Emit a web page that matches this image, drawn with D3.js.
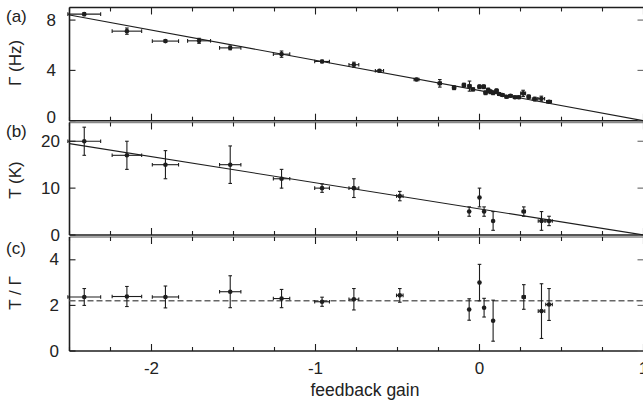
<!DOCTYPE html>
<html><head><meta charset="utf-8">
<script src="https://cdn.jsdelivr.net/npm/d3@7/dist/d3.min.js"></script>
<style>body{margin:0;background:#fff}svg{display:block}text{font-family:"Liberation Sans",Arial,sans-serif;fill:#222}</style>
</head><body><svg id="c" width="643" height="400"></svg>
<script>
// ---- data ----
const gainA = [-2.41,-2.15,-1.915,-1.71,-1.52,-1.207,-0.96,-0.766,-0.61,-0.384,-0.242,-0.155,-0.095,-0.061,-0.04,0.0,0.026,0.037,0.053,0.067,0.083,0.104,0.12,0.14,0.165,0.189,0.216,0.24,0.266,0.3,0.337,0.377,0.424];
const gainErrA = [0.1,0.09,0.08,0.07,0.065,0.05,0.045,0.03,0.025,0.015,0.01,0.01,0.01,0.01,0.01,0.01,0.01,0.01,0.01,0.01,0.01,0.01,0.01,0.01,0.01,0.01,0.01,0.01,0.015,0.01,0.015,0.02,0.015];
const gammaVals = [8.47,7.12,6.33,6.35,5.79,5.29,4.71,4.45,3.97,3.28,2.97,2.62,2.83,2.75,2.49,2.7,2.7,2.22,2.44,2.3,2.22,2.38,2.12,2.04,1.9,1.98,1.86,1.86,2.17,1.9,1.72,1.75,1.51];
const gammaErr = [0.12,0.25,0.1,0.2,0.15,0.25,0.1,0.2,0.1,0.1,0.3,0.15,0.15,0.4,0.1,0.15,0.15,0.15,0.15,0.15,0.15,0.15,0.1,0.1,0.1,0.1,0.1,0.1,0.25,0.15,0.15,0.2,0.1];

const gainB = [-2.41,-2.15,-1.915,-1.52,-1.207,-0.96,-0.766,-0.486,-0.063,0.0,0.028,0.083,0.27,0.378,0.424];
const gainErrB = [0.1,0.09,0.08,0.065,0.05,0.045,0.03,0.02,0.0,0.0,0.0,0.0,0.01,0.02,0.02];
const tempVals = [20,17,15,15,12,10,10,8.3,5,8,5,3,5,3,3];
const tempErr = [3,3,3,4,2,0.9,2,1,1,2,1,2,1,2,1];
const ratioVals = [2.37,2.39,2.37,2.6,2.3,2.16,2.27,2.44,1.82,3.0,1.9,1.33,2.37,1.75,2.04];
const ratioErr = [0.37,0.44,0.48,0.7,0.4,0.2,0.47,0.3,0.47,0.8,0.41,0.9,0.54,1.2,0.7];

const fitGamma = [[-2.5,8.4],[1,0]];
const fitTemp = [[-2.5,19.5],[1,0]];
const ratioMean = 2.2;

const xDomain = [-2.5, 1];
const xMajorTicks = [-2,-1,0,1];
const xMinorTicks = d3.range(-2.5, 1.001, 0.25);
const panelLabels = ["(a)","(b)","(c)"];
const yTitles = ["Γ (Hz)","T (K)","T / Γ"];
const yDomains = [[0,9],[0,24],[0,5]];
const yTicks = [[0,4,8],[0,10,20],[0,2,4]];
const xTitle = "feedback gain";

// ---- layout ----
const svg = d3.select("#c");
const x = d3.scaleLinear().domain(xDomain).range([69.5, 643.5]);
const panels = [
  {top:7.5, bottom:120.7, labX:56, labY:16, titleY:63},
  {top:122.5, bottom:235, labX:60, labY:131, titleY:180},
  {top:237, bottom:351, labX:59, labY:248, titleY:293}
];
const ink = "#1e1e1e";
const FS = 17;

function errBars(g, y, xs, xe, ys, ye){
  const cap = 1.8;
  xs.forEach((gv,i)=>{
    const cx = x(gv), cy = y(ys[i]);
    if (ye[i] > 0) {
      const y0 = y(ys[i]-ye[i]), y1 = y(ys[i]+ye[i]);
      g.append("line").attr("x1",cx).attr("x2",cx).attr("y1",y0).attr("y2",y1).attr("stroke",ink).attr("stroke-width",1.1);
      [y0,y1].forEach(yy=>g.append("line").attr("x1",cx-cap).attr("x2",cx+cap).attr("y1",yy).attr("y2",yy).attr("stroke",ink).attr("stroke-width",1.1));
    }
    if (xe[i] > 0) {
      const x0 = x(gv-xe[i]), x1 = x(gv+xe[i]);
      g.append("line").attr("x1",x0).attr("x2",x1).attr("y1",cy).attr("y2",cy).attr("stroke",ink).attr("stroke-width",1.1);
      [x0,x1].forEach(xx=>g.append("line").attr("x1",xx).attr("x2",xx).attr("y1",cy-cap).attr("y2",cy+cap).attr("stroke",ink).attr("stroke-width",1.1));
    }
    g.append("circle").attr("cx",cx).attr("cy",cy).attr("r",2.3).attr("fill",ink);
  });
}

const ys = panels.map((p,i)=>d3.scaleLinear().domain(yDomains[i]).range([p.bottom,p.top]));

panels.forEach((p,i)=>{
  const y = ys[i];
  const g = svg.append("g");
  g.append("line").attr("x1",x.range()[0]).attr("x2",x.range()[1]).attr("y1",p.top).attr("y2",p.top).attr("stroke", i===0?ink:"#888").attr("stroke-width",1.4);
  g.append("line").attr("x1",x.range()[0]).attr("x2",x.range()[1]).attr("y1",p.bottom).attr("y2",p.bottom).attr("stroke",ink).attr("stroke-width",1.6);
  g.append("line").attr("x1",x.range()[0]).attr("x2",x.range()[0]).attr("y1",p.top).attr("y2",p.bottom).attr("stroke",ink).attr("stroke-width",1.6);
  xMinorTicks.forEach(t=>{
    const major = xMajorTicks.some(m=>Math.abs(m-t)<1e-9);
    const len = major ? 7 : 4;
    g.append("line").attr("x1",x(t)).attr("x2",x(t)).attr("y1",p.bottom).attr("y2",p.bottom-len).attr("stroke",ink).attr("stroke-width",1.1);
    g.append("line").attr("x1",x(t)).attr("x2",x(t)).attr("y1",p.top).attr("y2",p.top+len).attr("stroke",ink).attr("stroke-width",1.1);
  });
  yTicks[i].forEach(t=>{
    g.append("line").attr("x1",x.range()[0]).attr("x2",x.range()[0]+6).attr("y1",y(t)).attr("y2",y(t)).attr("stroke",ink).attr("stroke-width",1.1);
    g.append("line").attr("x1",x.range()[1]-6).attr("x2",x.range()[1]).attr("y1",y(t)).attr("y2",y(t)).attr("stroke","#666").attr("stroke-width",1.1);
    g.append("text").attr("x",p.labX).attr("y",y(t) - (t===0 && i===0 ? 3 : 0)).attr("text-anchor","end").attr("dominant-baseline","central").attr("font-size",FS).text(t);
  });
  g.append("text").attr("x",6).attr("y",p.labY).attr("dominant-baseline","central").attr("font-size",FS).text(panelLabels[i]);
  g.append("text").attr("transform",`translate(15,${p.titleY}) rotate(-90)`).attr("text-anchor","middle").attr("dominant-baseline","central").attr("font-size",FS).text(yTitles[i]);
});

const line = (y)=>d3.line().x(d=>x(d[0])).y(d=>y(d[1]));
svg.append("path").attr("d",line(ys[0])(fitGamma)).attr("stroke",ink).attr("stroke-width",1.1).attr("fill","none");
svg.append("path").attr("d",line(ys[1])(fitTemp)).attr("stroke",ink).attr("stroke-width",1.1).attr("fill","none");
svg.append("path").attr("d",line(ys[2])([[xDomain[0],ratioMean],[xDomain[1],ratioMean]])).attr("stroke","#666").attr("stroke-width",1.5).attr("stroke-dasharray","6,3").attr("fill","none");

errBars(svg.append("g"), ys[0], gainA, gainErrA, gammaVals, gammaErr);
errBars(svg.append("g"), ys[1], gainB, gainErrB, tempVals, tempErr);
errBars(svg.append("g"), ys[2], gainB, gainErrB, ratioVals, ratioErr);

xMajorTicks.forEach(t=>{
  svg.append("text").attr("x",x(t)).attr("y",368.5).attr("text-anchor","middle").attr("dominant-baseline","central").attr("font-size",FS).text(t);
});
svg.append("text").attr("x",365).attr("y",390).attr("text-anchor","middle").attr("dominant-baseline","central").attr("font-size",17.5).text(xTitle);
</script></body></html>
